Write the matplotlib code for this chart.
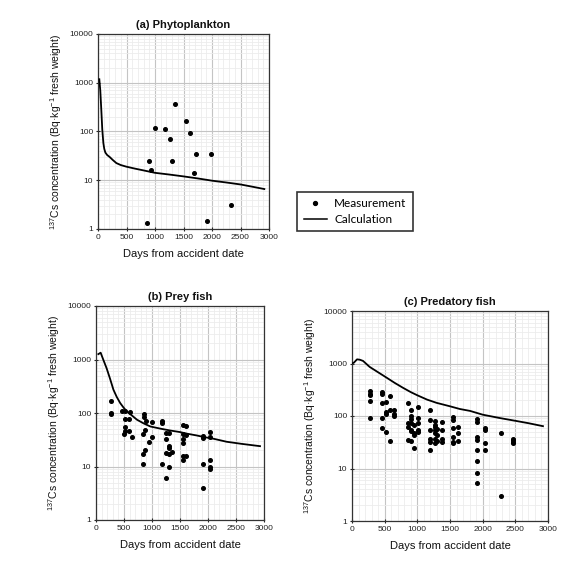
import matplotlib
matplotlib.use("Agg")
import matplotlib.pyplot as plt
from matplotlib.ticker import FixedLocator, NullFormatter, LogLocator, MultipleLocator
from matplotlib.lines import Line2D

plt.rcParams['font.family'] = ['Liberation Sans', 'DejaVu Sans']
plt.rcParams['mathtext.fontset'] = 'custom'
plt.rcParams['mathtext.rm'] = 'Liberation Sans'
plt.rcParams['mathtext.it'] = 'Liberation Sans:italic'

# ---------------- data ----------------
# (a) Phytoplankton
a_meas_days = [860, 895, 936, 1006, 1181, 1257, 1304, 1357, 1550, 1608, 1725, 1678, 1977, 1912, 2333]
a_meas_vals = [1.3, 25, 16, 119, 110, 69, 25, 374, 168, 95, 35, 13.8, 35, 1.44, 3.15]
a_calc_days = [23, 40, 58, 75, 94, 110, 129, 160, 205, 260, 322, 400, 497, 650, 790, 1000, 1250, 1500, 1750, 2000, 2250, 2500, 2700, 2918]
a_calc_vals = [1180, 700, 277, 110, 58, 44, 37, 33, 30, 26, 22.5, 20.5, 19, 17.3, 16, 14.2, 13.1, 12, 10.9, 9.8, 9.0, 8.2, 7.4, 6.6]

# (b) Prey fish
b_meas_days = [263, 263, 275, 461, 521, 521, 581, 521, 521, 503, 581, 641, 600,
               850, 850, 880, 838, 940, 880, 838, 838, 898, 1000, 1000,
               1180, 1180, 1180, 1257, 1299, 1257, 1299, 1311, 1359, 1257, 1299, 1257, 1311,
               1557, 1611, 1551, 1611, 1551, 1551, 1551, 1545, 1611,
               1910, 1910, 1910, 1910, 2036, 2036, 2036, 2036, 2036]
b_meas_vals = [165, 100, 97, 110, 110, 77, 77, 55, 47, 41, 47, 35, 106,
               97, 84, 49, 40, 29, 20, 17, 11, 70, 67, 35,
               72, 65, 11, 43, 43, 32, 24.5, 22, 19, 18, 17, 6, 9.7,
               60, 58, 40, 39, 32, 27, 15.5, 13, 15.5,
               37, 34, 11, 3.9, 45, 35, 13, 10, 9]
b_calc_days = [42, 83, 132, 190, 250, 311, 370, 431, 490, 551, 640, 731, 850, 970, 1150, 1329, 1500, 1629, 1800, 1928, 2100, 2333, 2600, 2929]
b_calc_vals = [1260, 1340, 980, 684, 440, 273, 200, 154, 127, 107, 90, 75, 64, 56, 51, 47, 44, 41, 38, 35.5, 33, 29, 26.5, 24]

# (c) Predatory fish
c_meas_days = [282, 282, 282, 282, 282,
               461, 461, 461, 461, 461,
               517, 517, 517, 517,
               584, 584, 584,
               640, 640, 640,
               855, 855, 855, 855,
               896, 896, 896, 896, 896, 896, 896,
               947, 947, 947, 947,
               1003, 1003, 1003, 1003, 1003,
               1193, 1193, 1193, 1193, 1193, 1193,
               1270, 1270, 1270, 1270, 1270, 1270, 1270,
               1305, 1305, 1305,
               1372, 1372, 1372, 1372,
               1551, 1551, 1551, 1551, 1551, 1551,
               1618, 1618, 1618,
               1910, 1910, 1910, 1910, 1910, 1910, 1910, 1910,
               2038, 2038, 2038, 2038,
               2278, 2278,
               2462, 2462, 2462, 2462]
c_meas_vals = [296, 265, 250, 190, 92,
               290, 260, 180, 93, 58,
               183, 120, 108, 50,
               240, 130, 33,
               130, 108, 100,
               178, 74, 62, 35,
               130, 100, 86, 72, 55, 52, 33,
               67, 47, 43, 25,
               149, 93, 72, 54, 50,
               130, 84, 55, 37, 32, 23,
               80, 67, 61, 55, 47, 36, 31,
               57, 44, 34,
               77, 54, 36, 32,
               97, 83, 58, 40, 32, 30,
               61, 47, 34,
               86, 77, 40, 35, 23, 14, 8.3, 5.3,
               58, 54, 30, 22.5,
               48, 3.0,
               37, 35, 32, 31]
c_calc_days = [0, 30, 77, 120, 169, 271, 400, 527, 650, 783, 900, 1000, 1150, 1295, 1500, 1650, 1807, 2000, 2250, 2500, 2700, 2923]
c_calc_vals = [1000, 1040, 1200, 1180, 1120, 860, 680, 540, 430, 343, 285, 248, 205, 178, 153, 136, 125, 106, 92, 81, 73, 64]

titles = ["(a) Phytoplankton", "(b) Prey fish", "(c) Predatory fish"]
xlabel = "Days from accident date"
ylabel = r"$^{137}$Cs concentration (Bq·kg$^{-1}$ fresh weight)"
xticks = [0, 500, 1000, 1500, 2000, 2500, 3000]
yticks = [1, 10, 100, 1000, 10000]
legend_labels = ["Measurement", "Calculation"]

W, H = 582, 567
fig = plt.figure(figsize=(W / 100, H / 100), dpi=100)

def px_axes(l, r, t, b):
    return fig.add_axes([l / W, 1 - b / H, (r - l) / W, (b - t) / H])

boxes = [(98, 269, 34, 229), (96, 264, 306, 520), (352, 548, 311, 521)]
data = [(a_meas_days, a_meas_vals, a_calc_days, a_calc_vals),
        (b_meas_days, b_meas_vals, b_calc_days, b_calc_vals),
        (c_meas_days, c_meas_vals, c_calc_days, c_calc_vals)]

for box, title, (md, mv, cd, cv) in zip(boxes, titles, data):
    ax = px_axes(*box)
    ax.set_yscale('log')
    ax.set_xlim(0, 3000)
    ax.set_ylim(1, 10000)
    ax.xaxis.set_major_locator(FixedLocator(xticks))
    ax.xaxis.set_minor_locator(MultipleLocator(100))
    ax.yaxis.set_major_locator(FixedLocator(yticks))
    ax.yaxis.set_minor_locator(LogLocator(base=10, subs=range(2, 10)))
    ax.yaxis.set_minor_formatter(NullFormatter())
    ax.set_yticklabels([str(v) for v in yticks])
    ax.set_xticklabels([str(v) for v in xticks])
    ax.grid(which='minor', color='#ececec', linewidth=0.6)
    ax.grid(which='major', color='#c4c4c4', linewidth=0.8)
    ax.set_axisbelow(True)
    ax.tick_params(which='major', labelsize=6, length=3, width=0.8, direction='inout', colors='#222222', pad=2)
    ax.tick_params(which='minor', length=0)
    for s in ax.spines.values():
        s.set_color('#333333')
        s.set_linewidth(0.9)
    ax.plot(cd, cv, color='black', linewidth=1.3, zorder=3)
    ax.plot(md, mv, 'o', color='black', markersize=2.6, linestyle='none', zorder=4)
    ax.set_title(title, fontsize=8, fontweight='bold', pad=4, color='#111111')
    ax.set_xlabel(xlabel, fontsize=8, labelpad=6, color='#111111')
    ax.set_ylabel(ylabel, fontsize=7.5, labelpad=4, color='#111111')

# legend
handles = [Line2D([], [], marker='o', color='black', linestyle='none', markersize=2.8),
           Line2D([], [], color='black', linewidth=1.1)]
leg = fig.legend(handles, legend_labels, loc='center', bbox_to_anchor=(355 / W, 1 - 211.5 / H),
                 frameon=True, fancybox=False, edgecolor='black',
                 prop={'family': 'Lato', 'size': 8.5}, handlelength=2.0, handletextpad=0.6,
                 borderpad=0.55, labelspacing=0.4)
leg.get_frame().set_linewidth(1.2)

fig.savefig("out.png", dpi=100)
